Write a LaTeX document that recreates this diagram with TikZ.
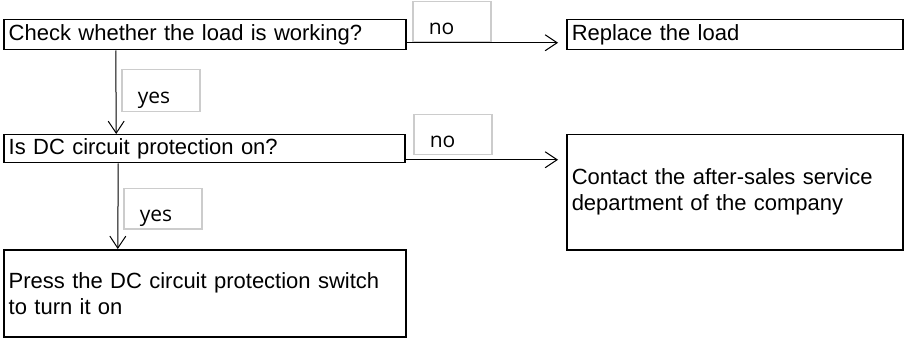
\documentclass[tikz,border=0pt]{standalone}
\usepackage{fontspec}
\setmainfont{Liberation Sans}
\newfontfamily\tagfont{Open Sans}
\usetikzlibrary{positioning,arrows.meta}

\tikzset{
    stepbox/.style={draw, line width=1.5pt, anchor=north west, align=left,
        inner xsep=5pt, inner ysep=0pt, font=\fontsize{22}{26}\selectfont},
    tagbox/.style={draw=gray!40, line width=1.5pt, anchor=north west, align=left,
        text width=46pt, inner xsep=16pt, inner ysep=0pt, minimum height=40pt,
        text height=25pt, text depth=0pt, font=\tagfont\fontsize{21}{26}\selectfont},
    flow/.style={line width=1pt, -{Straight Barb[length=12pt,width=16pt,line width=1pt]}}
}

\begin{document}
\begin{tikzpicture}[x=1pt, y=-1pt]
    \useasboundingbox (0,0) rectangle (908,342);
    % boxes
    \node[stepbox, text width=392pt, minimum height=30pt] (check) at (3,19) {Check whether the load is working?};
    \node[stepbox, text width=326pt, minimum height=30pt] (replace) at (566,19) {Replace the load};
    \node[stepbox, text width=391pt, minimum height=28pt] (status) at (3,134) {Is DC circuit protection on?};
    \node[stepbox, text width=326pt, minimum height=115pt] (contact) at (566,134) {Contact the after-sales service\\department of the company};
    \node[stepbox, text width=392pt, minimum height=87pt] (press) at (3,249) {Press the DC circuit protection switch\\to turn it on};
    % labels
    \node[tagbox] (no1) at (412,1) {no};
    \node[tagbox, minimum height=42pt] (yes1) at (121,69) {yes};
    \node[tagbox] (no2) at (413,114) {no};
    \node[tagbox] (yes2) at (123,188) {yes};
    % arrows
    \coordinate (nofrom1) at ([yshift=-8pt]check.east);
    \coordinate (nofrom2) at ([yshift=-11pt]status.east);
    \draw[flow, shorten >=8pt] (nofrom1) -- (nofrom1 -| replace.west);
    \draw[flow] ([xshift=-89pt]check.south) -- ([xshift=-88pt]status.north);
    \draw[flow, shorten >=8pt] (nofrom2) -- (nofrom2 -| contact.west);
    \draw[flow] ([xshift=-86pt]status.south) -- ([xshift=-87pt]press.north);
\end{tikzpicture}
\end{document}
